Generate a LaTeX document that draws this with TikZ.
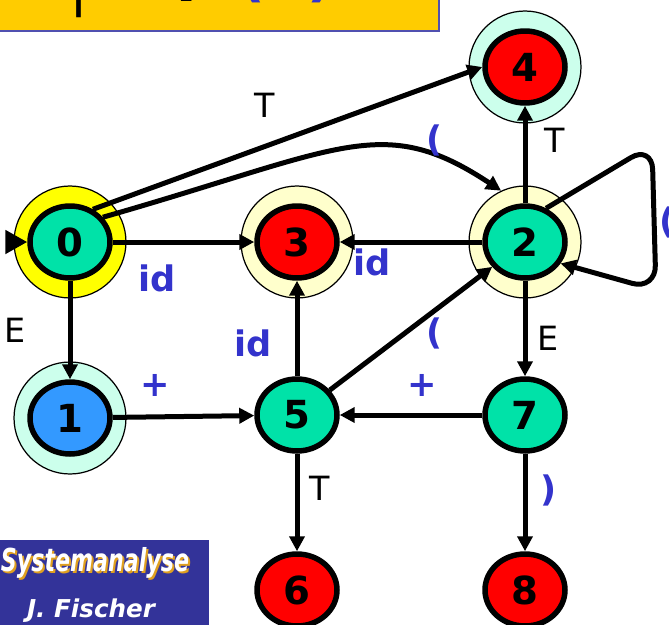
\documentclass[tikz,border=0pt]{standalone}
\usepackage{fontspec}
\setsansfont{DejaVu Sans}
\usepackage{tikz}
\usetikzlibrary{arrows.meta}
\usetikzlibrary{shapes.geometric}
\usetikzlibrary{positioning}

\definecolor{stgreen}{RGB}{0,226,168}
\definecolor{stred}{RGB}{255,0,0}
\definecolor{stblue}{RGB}{51,153,255}
\definecolor{ringyellow}{RGB}{255,255,0}
\definecolor{ringcream}{RGB}{255,255,204}
\definecolor{ringmint}{RGB}{204,255,236}
\definecolor{termblue}{RGB}{51,51,204}
\definecolor{logoblue}{RGB}{51,51,153}
\definecolor{logogold}{RGB}{224,160,32}
\definecolor{bannergold}{RGB}{255,204,0}
\definecolor{bannerline}{RGB}{80,80,176}

\tikzset{>=latex}
\tikzset{
  state/.style = {ellipse, draw=black, line width=0.11cm, minimum width=1.6cm,
                  minimum height=1.44cm, inner sep=0pt,
                  font=\sffamily\bfseries\fontsize{22}{22}\selectfont},
  ring/.style  = {circle, draw=black, line width=0.7pt, minimum size=2.24cm},
  edge/.style  = {line width=0.1cm, -{Triangle[length=0.3cm,width=0.3cm]}},
  nt/.style    = {font=\sffamily\fontsize{19}{19}\selectfont},
  tm/.style    = {text=termblue, font=\sffamily\bfseries\fontsize{20}{20}\selectfont},
  bn/.style    = {inner sep=0pt, anchor=base, font=\sffamily\bfseries\fontsize{32}{32}\selectfont},
  logo/.style  = {inner sep=0pt, font=\sffamily\bfseries\itshape\fontsize{18}{18}\selectfont, xscale=0.7}
}

\begin{document}
\begin{tikzpicture}[x=0.02cm, y=-0.02cm]
\useasboundingbox (0,0) rectangle (669,625);

% banner at the top, only its lower edge is on the page
\fill [bannergold] (0,-40) rectangle (439,31);
\draw [bannerline, line width=1.2pt] (0,31) -- (439,31) -- (439,-40);
\node [bn] (bS) at (39,-5) {S};
\node [bn, font=\sffamily\fontsize{32}{32}\selectfont] (bBar) at (79,5) {|};
\node [bn] (bT) at (187,2) {T};
\node [bn, text=termblue] (bL) at (252,-4) {(};
\node [bn] (bE) at (286,-7) {E};
\node [bn, text=termblue] (bR) at (320,-4) {)};

% outer rings
\node [ring, fill=ringyellow] (r0) at (70,242) {};
\node [ring, fill=ringmint] (r1) at (70,418) {};
\node [ring, fill=ringcream] (r3) at (297,242) {};
\node [ring, fill=ringcream] (r2) at (525,242) {};
\node [ring, fill=ringmint] (r4) at (525,67) {};

% states
\node [state, fill=stgreen] (s0) at (70,242) {0};
\node [state, fill=stblue] (s1) at (70,418) {1};
\node [state, fill=stgreen] (s2) at (525,242) {2};
\node [state, fill=stred] (s3) at (297,242) {3};
\node [state, fill=stred] (s4) at (525,67) {4};
\node [state, fill=stgreen] (s5) at (297,415) {5};
\node [state, fill=stred] (s6) at (297,590) {6};
\node [state, fill=stgreen] (s7) at (525,415) {7};
\node [state, fill=stred] (s8) at (525,590) {8};

% start arrow
\coordinate (init) at (8,242);
\draw [line width=0.1cm, -{Triangle[length=0.44cm,width=0.46cm]}] (init) -- (s0.west);

% transitions
\draw [edge] (s0.55) -- (s4.west);
\draw [edge] (s0.37) .. controls (342,149) and (382,112) .. (r2.115);
\draw [edge] (s0) -- (s3);
\draw [edge] (s0) -- (s1);
\draw [edge] (s2) -- (s3);
\draw [edge] (s2) -- (s4);
\draw [edge] (s2) -- (s7);
\draw [edge] (s1) -- (s5);
\draw [edge] (s7) -- (s5);
\draw [edge] (s5) -- (s3);
\draw [edge] (s5) -- (s2);
\draw [edge] (s5) -- (s6);
\draw [edge] (s7) -- (s8);
\coordinate (loopA) at (652,145);
\coordinate (loopB) at (656,290);
\draw [edge, rounded corners=14pt] (s2.58) -- (loopA) -- (loopB) -- (s2.-31);

% labels
\node [nt] (l04) at (265,105) {T};
\node [tm] (l02) at (435,140) {(};
\node [tm] (l03) at (157,278) {id};
\node [tm] (l23) at (372,262) {id};
\node [tm] (l53) at (253,343) {id};
\node [tm] (l52) at (435,333) {(};
\node [nt] (l24) at (555,140) {T};
\node [tm] (l22) at (668,222) {(};
\node [nt] (l01) at (15,330) {E};
\node [tm] (l15) at (155,385) {+};
\node [tm] (l75) at (422,385) {+};
\node [nt] (l27) at (548,338) {E};
\node [nt] (l56) at (320,488) {T};
\node [tm] (l78) at (549,490) {)};

% logo in the corner
\fill [logoblue] (0,540) rectangle (209,625);
\node [logo, text=logogold] (logoshadow) at (97,565) {Systemanalyse};
\node [logo, text=white] (logotitle) at (95,563) {Systemanalyse};
\node [inner sep=0pt, text=white, font=\sffamily\bfseries\itshape\fontsize{14}{14}\selectfont] (logoname) at (91,611) {J. Fischer};
\end{tikzpicture}
\end{document}
